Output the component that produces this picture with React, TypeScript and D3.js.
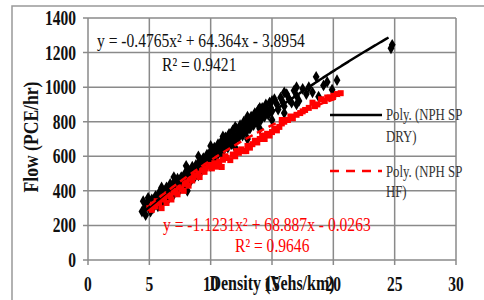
import React from 'react';
import * as d3 from 'd3';

// tick values
const xTicks = [0, 5, 10, 15, 20, 25, 30];
const yTicks = [0, 200, 400, 600, 800, 1000, 1200, 1400];

// NPH SP DRY: [density, flow]
const dryPoints: [number, number][] = [
  [4.4, 280], [4.5, 340], [4.6, 300], [4.7, 260], [4.8, 330], [4.9, 360],
  [5.0, 310], [5.1, 280], [5.2, 350], [5.3, 300], [5.4, 330], [5.5, 370],
  [5.6, 340], [5.7, 310], [5.8, 390], [5.9, 350], [6.0, 380], [6.1, 340],
  [6.2, 400], [6.3, 370], [6.4, 420], [6.5, 390], [6.6, 360], [6.7, 440],
  [6.8, 410], [6.9, 380], [7.0, 450], [7.1, 420], [7.2, 400], [7.3, 470],
  [7.4, 440], [7.5, 410], [7.6, 480], [7.7, 450], [7.8, 430], [7.9, 500],
  [8.0, 470], [8.1, 400], [8.2, 520], [8.3, 490], [8.4, 460], [8.5, 540],
  [8.6, 510], [8.7, 480], [8.8, 550], [8.9, 520], [9.0, 500], [9.1, 570],
  [9.2, 540], [9.3, 520], [9.4, 590], [9.5, 560], [9.6, 540], [9.7, 610],
  [9.8, 580], [9.9, 560], [10.0, 630], [10.1, 600], [10.2, 580], [10.3, 650],
  [10.4, 620], [10.5, 600], [10.6, 670], [10.7, 640], [10.8, 620], [10.9, 690],
  [11.0, 660], [11.1, 640], [11.2, 710], [11.3, 680], [11.4, 650], [11.5, 730],
  [11.6, 700], [11.7, 670], [11.8, 750], [11.9, 720], [12.0, 690], [12.1, 760],
  [12.2, 730], [12.3, 710], [12.4, 780], [12.5, 750], [12.6, 720], [12.7, 800],
  [12.8, 770], [12.9, 740], [13.0, 820], [13.1, 790], [13.2, 760], [13.3, 830],
  [13.4, 800], [13.5, 780], [13.6, 850], [13.7, 820], [13.8, 790], [13.9, 870],
  [14.0, 840], [14.1, 810], [14.2, 880], [14.3, 850], [14.4, 830], [14.5, 900],
  [14.6, 870], [14.7, 840], [14.8, 910], [14.9, 880], [15.0, 860], [15.2, 930],
  [15.4, 900], [15.5, 870], [15.7, 940], [15.9, 910], [16.0, 890], [16.2, 960],
  [16.4, 930], [16.6, 910], [16.8, 980], [17.0, 950], [17.2, 920], [17.5, 990],
  [17.8, 960], [18.0, 1000], [18.3, 970], [18.6, 1060], [18.8, 945], [19.2, 1010],
  [19.5, 1030], [19.9, 985], [20.3, 1040], [24.7, 1225], [24.8, 1245],
  [6.0, 420], [7.0, 480], [8.0, 545], [9.0, 600], [10.0, 660], [11.0, 715],
  [12.0, 770], [13.0, 830], [14.0, 880], [15.0, 920], [16.0, 970], [17.0, 1000],
  [6.0, 330], [7.0, 380], [8.0, 440], [9.0, 490], [10.0, 545], [11.0, 600],
  [12.0, 650], [13.0, 700], [14.0, 760], [15.0, 810], [16.0, 850], [17.0, 900],
];

// NPH SP HF: [density, flow]
const hfPoints: [number, number][] = [
  [5.0, 300], [5.2, 290], [5.3, 320], [5.5, 310], [5.6, 340], [5.8, 330], [6.0, 300], [6.1, 360],
  [6.2, 350], [6.4, 330], [6.5, 380], [6.7, 370], [6.8, 350], [7.0, 400], [7.1, 390], [7.3, 380],
  [7.4, 420], [7.6, 410], [7.8, 400], [7.9, 440], [8.0, 450], [8.2, 430], [8.3, 470], [8.5, 460],
  [8.6, 480], [8.8, 490], [9.0, 500], [9.1, 480], [9.3, 520], [9.5, 510], [9.6, 530], [9.8, 540],
  [10.0, 550], [10.1, 530], [10.3, 560], [10.5, 540], [10.7, 570], [10.9, 538], [11.0, 580], [11.2, 600],
  [11.3, 590], [11.6, 578], [11.8, 610], [12.0, 600], [12.1, 630], [12.3, 620], [12.5, 640], [12.7, 630],
  [12.9, 630], [13.0, 660], [13.2, 650], [13.4, 670], [13.6, 690], [13.8, 680], [14.0, 700], [14.2, 720],
  [14.4, 700], [14.6, 730], [14.8, 720], [15.0, 740], [15.2, 760], [15.4, 750], [15.6, 770], [15.8, 790],
  [15.8, 810], [16.0, 800], [16.3, 810], [16.5, 830], [16.7, 820], [17.0, 840], [17.3, 850], [17.5, 860],
  [17.7, 868], [18.0, 880], [18.3, 910], [18.5, 890], [18.7, 900], [19.0, 930], [19.3, 920], [19.5, 940],
  [19.7, 940], [20.0, 950], [20.3, 960], [20.6, 965],
];

// trend line coefficients [a, b, c] of y = a x^2 + b x + c, and fit range
const dryFit = [-0.4765, 64.364, -3.8954];
const dryRange = [4.4, 24.5];
const hfFit = [-1.1231, 68.887, -0.0263];
const hfRange = [5.0, 20.6];

const serif = '"Liberation Serif", "Times New Roman", serif';

const T = ({ x, y, size, bold, fill = '#111', anchor = 'start', rotate = 0, sx = 0.8, children }: any) => (
  <text
    transform={`translate(${x},${y}) rotate(${rotate}) scale(${sx},1)`}
    fontFamily={serif}
    fontSize={size}
    fontWeight={bold ? 'bold' : 'normal'}
    fill={fill}
    textAnchor={anchor}
  >
    {children}
  </text>
);

const App = () => {
  const x = d3.scaleLinear().domain([0, 30]).range([88, 456]);
  const y = d3.scaleLinear().domain([0, 1400]).range([260, 18]);

  const curve = (coef: number[], range: number[]) => {
    const xs = d3.range(range[0], range[1] + 0.001, 0.1);
    return d3.line<number>()
      .x(d => x(d))
      .y(d => y(coef[0] * d * d + coef[1] * d + coef[2]))(xs);
  };

  const diamond = d3.symbol().type(d3.symbolDiamond).size(40)();
  const grid = '#8a8a8a';

  return (
    <svg width={484} height={300} style={{ position: 'absolute', left: 0, top: 0, background: '#fff' }}>
      <rect x={12} y={6} width={490} height={310} fill="#fff" stroke="#999" strokeWidth={1.5} />

      {/* grid */}
      {yTicks.map(t => (
        <line key={'h' + t} x1={83} x2={x(30)} y1={y(t)} y2={y(t)} stroke={grid} strokeWidth={1.5} />
      ))}
      {xTicks.map(t => (
        <line key={'v' + t} x1={x(t)} x2={x(t)} y1={y(1400)} y2={265} stroke={grid} strokeWidth={1.5} />
      ))}

      {/* tick labels */}
      {yTicks.map(t => (
        <T key={'yl' + t} x={76} y={y(t) + 7} size={21} sx={0.74} bold anchor="end">{t}</T>
      ))}
      {xTicks.map(t => (
        <T key={'xl' + t} x={x(t)} y={291} size={21} sx={0.74} bold anchor="middle">{t}</T>
      ))}

      {/* points */}
      {dryPoints.map((p, i) => (
        <path key={'d' + i} d={diamond!} transform={`translate(${x(p[0])},${y(p[1])})`} fill="#000" />
      ))}
      {hfPoints.map((p, i) => (
        <rect key={'h' + i} x={x(p[0]) - 3} y={y(p[1]) - 3} width={6} height={6} fill="#ff0000" />
      ))}

      {/* trend lines */}
      <path d={curve(dryFit, dryRange)!} fill="none" stroke="#000" strokeWidth={2.5} />
      <path d={curve(hfFit, hfRange)!} fill="none" stroke="#ff0000" strokeWidth={2.5} strokeDasharray="8,5" />

      {/* equations */}
      <T x={97} y={47} size={19} sx={0.82}>y = -0.4765x² + 64.364x - 3.8954</T>
      <T x={162} y={71} size={19} sx={0.82}>R² = 0.9421</T>
      <T x={163} y={231} size={19} sx={0.82} fill="#ff0000">y = -1.1231x² + 68.887x - 0.0263</T>
      <T x={235} y={252} size={19} sx={0.82} fill="#ff0000">R² = 0.9646</T>

      {/* legend */}
      <line x1={330} x2={382} y1={115} y2={115} stroke="#000" strokeWidth={2.5} />
      <T x={386} y={120} size={16} fill="#333">Poly. (NPH SP</T>
      <T x={386} y={142} size={16} fill="#333">DRY)</T>
      <line x1={330} x2={382} y1={171} y2={171} stroke="#ff0000" strokeWidth={2.5} strokeDasharray="9,7" />
      <T x={386} y={177} size={16} fill="#333">Poly. (NPH SP</T>
      <T x={386} y={197} size={16} fill="#333">HF)</T>

      {/* axis titles */}
      <T x={38} y={137} size={22} bold anchor="middle" rotate={-90}>Flow (PCE/hr)</T>
      <T x={272} y={290} size={20} bold anchor="middle">Density (Vehs/km)</T>
    </svg>
  );
};

export default App;
